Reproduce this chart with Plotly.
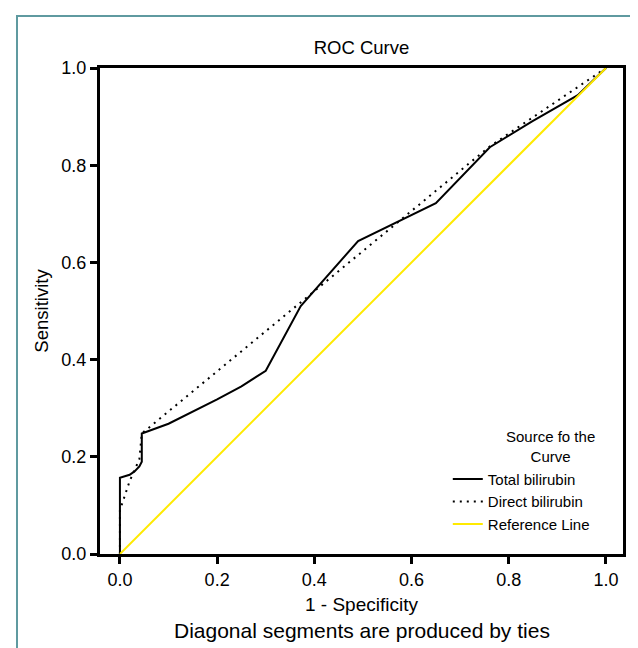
import plotly.graph_objects as go

# Data
total_x = [0.0, 0.0, 0.01, 0.02, 0.03, 0.04, 0.045, 0.045, 0.10, 0.14, 0.20, 0.25, 0.30, 0.372, 0.49, 0.65, 0.761, 0.848, 0.942, 1.0]
total_y = [0.0, 0.157, 0.16, 0.163, 0.17, 0.18, 0.19, 0.248, 0.268, 0.288, 0.318, 0.345, 0.377, 0.51, 0.644, 0.722, 0.837, 0.89, 0.944, 1.0]

direct_x = [0.0, 0.0, 0.02, 0.04, 0.045, 0.76, 1.0]
direct_y = [0.0, 0.09, 0.15, 0.195, 0.248, 0.838, 1.0]

ref_x = [0.0, 1.0]
ref_y = [0.0, 1.0]

x_ticks = [0.0, 0.2, 0.4, 0.6, 0.8, 1.0]
y_ticks = [0.0, 0.2, 0.4, 0.6, 0.8, 1.0]
tick_text = ["0.0", "0.2", "0.4", "0.6", "0.8", "1.0"]

FONT = "Liberation Sans, Arial, sans-serif"

fig = go.Figure()
fig.add_trace(go.Scatter(x=total_x, y=total_y, mode="lines", name="Total bilirubin",
                         line=dict(color="black", width=2)))
fig.add_trace(go.Scatter(x=direct_x, y=direct_y, mode="lines", name="Direct bilirubin",
                         line=dict(color="black", width=2, dash="2px,5px")))
fig.add_trace(go.Scatter(x=ref_x, y=ref_y, mode="lines", name="Reference Line",
                         line=dict(color="#ffea00", width=2)))

fig.update_layout(
    width=638, height=648,
    margin=dict(l=92, r=23, t=60, b=102),
    paper_bgcolor="white", plot_bgcolor="white",
    font=dict(family=FONT, size=18, color="black"),
    title=dict(text="ROC Curve", x=0.5, xref="paper", xanchor="center",
               y=1, yref="container", yanchor="top", pad=dict(t=33),
               font=dict(size=18.5, color="black")),
    showlegend=True,
    legend=dict(x=0.665, y=0.188, xanchor="left", yanchor="top",
                bgcolor="rgba(0,0,0,0)", font=dict(size=15),
                itemwidth=30, tracegroupgap=0),
    xaxis=dict(range=[-0.041, 1.035], tickvals=x_ticks, ticktext=tick_text,
               showgrid=False, zeroline=False, showline=True, mirror=True,
               linecolor="black", linewidth=3, ticks="outside", ticklen=7,
               tickwidth=3, tickcolor="black", tickfont=dict(size=18),
               title=dict(text="1 - Specificity", standoff=10, font=dict(size=19))),
    yaxis=dict(range=[0, 1], tickvals=y_ticks, ticktext=tick_text,
               showgrid=False, zeroline=False, showline=True, mirror=True,
               linecolor="black", linewidth=3, ticks="outside", ticklen=7,
               tickwidth=3, tickcolor="black", tickfont=dict(size=18),
               title=dict(text="Sensitivity", standoff=8, font=dict(size=18.5))),
)

fig.add_annotation(text="Source fo the<br>Curve", xref="paper", yref="paper",
                   x=0.862, y=0.222, xanchor="center", yanchor="middle", showarrow=False,
                   align="center", font=dict(size=15, color="black"))

fig.add_annotation(text="Diagonal segments are produced by ties", xref="paper", yref="paper",
                   x=0.5, y=-0.157, xanchor="center", yanchor="middle", showarrow=False,
                   font=dict(size=21, color="black"))

fig.add_shape(type="rect", xref="paper", yref="paper", x0=-0.1587, x1=1.0344, y0=-0.4, y1=1.107,
              line=dict(color="#5f9aa0", width=2), fillcolor="rgba(0,0,0,0)", layer="below")

fig.write_html("out.html")
